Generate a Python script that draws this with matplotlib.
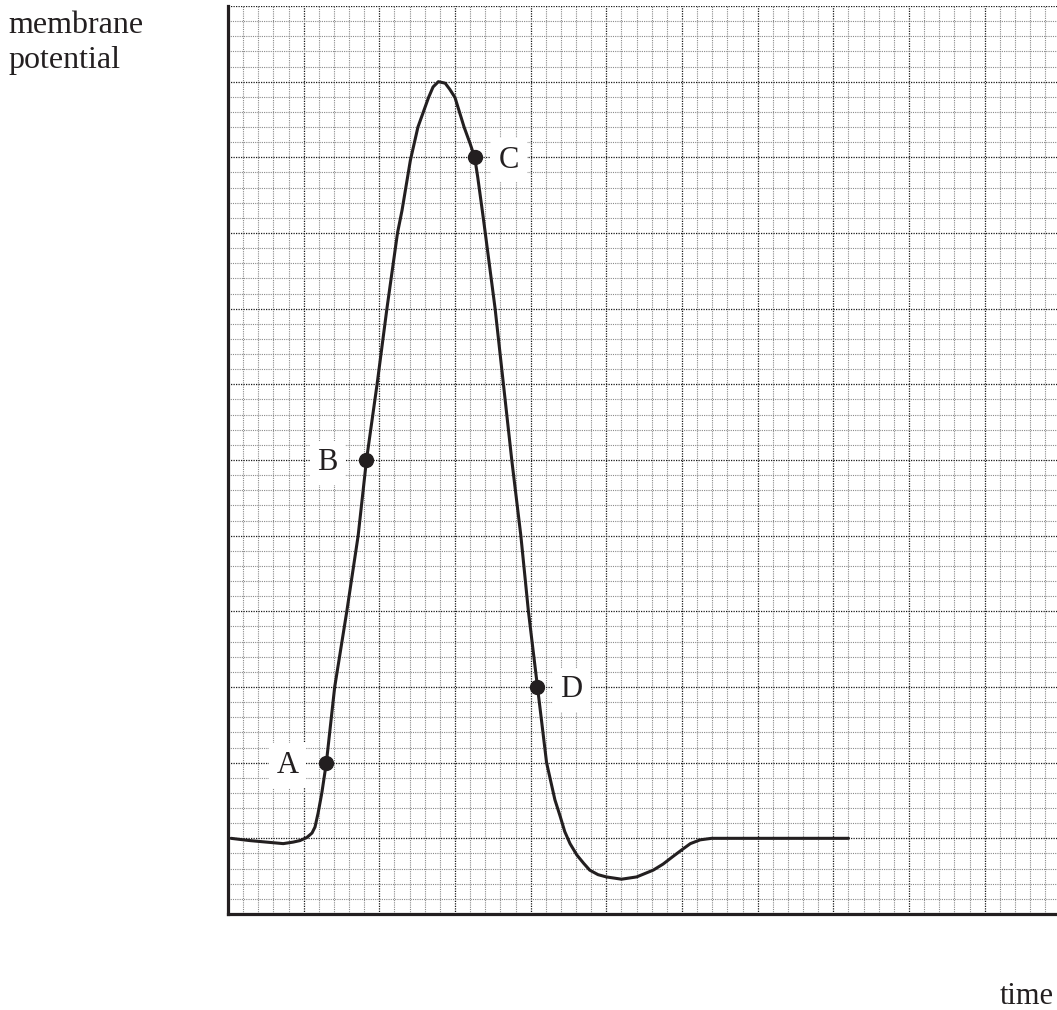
import matplotlib
matplotlib.use("Agg")
import matplotlib.pyplot as plt
from matplotlib.ticker import MultipleLocator

# curve (1 unit = 1 large square)
time = [0.04, 0.29, 0.73, 0.86, 0.95, 1.04, 1.11, 1.15, 1.19, 1.24, 1.30, 1.41,
        1.57, 1.72, 1.83, 1.97, 2.10, 2.24, 2.30, 2.41, 2.51, 2.65, 2.71, 2.78,
        2.87, 2.93, 3.00, 3.12, 3.20, 3.26, 3.30, 3.36, 3.40, 3.53, 3.64, 3.75,
        3.87, 3.97, 4.09, 4.21, 4.32, 4.39, 4.45, 4.52, 4.61, 4.70, 4.78, 4.89,
        5.00, 5.20, 5.40, 5.62, 5.75, 5.88, 6.00, 6.11, 6.24, 6.39, 8.20]
potential = [1.00, 0.97, 0.93, 0.95, 0.97, 1.01, 1.07, 1.15, 1.33, 1.60, 2.00, 3.00,
             4.00, 5.00, 6.00, 7.00, 8.00, 9.00, 9.30, 9.96, 10.40, 10.79, 10.93, 11.00,
             10.98, 10.90, 10.79, 10.40, 10.18, 10.00, 9.74, 9.30, 9.00, 8.00, 7.00, 6.00,
             5.00, 4.00, 3.00, 2.00, 1.51, 1.29, 1.09, 0.93, 0.78, 0.67, 0.58, 0.52,
             0.49, 0.46, 0.49, 0.58, 0.66, 0.76, 0.85, 0.93, 0.98, 1.00, 1.00]

point_names = ["A", "B", "C", "D"]
point_x = [1.30, 1.83, 3.26, 4.09]
point_y = [2.00, 6.00, 10.00, 3.00]
label_side = ["left", "left", "right", "right"]

fig = plt.figure(figsize=(10.57, 10.10), dpi=100)
ax = fig.add_axes([228 / 1057, 1 - 914 / 1010, 1 - 228 / 1057, 908 / 1010])

ax.set_xlim(0, 829 / 75.67)
ax.set_ylim(0, 12)

ax.xaxis.set_major_locator(MultipleLocator(1))
ax.xaxis.set_minor_locator(MultipleLocator(0.2))
ax.yaxis.set_major_locator(MultipleLocator(1))
ax.yaxis.set_minor_locator(MultipleLocator(0.2))
ax.grid(which="minor", color="#8a8a8a", linestyle=(0, (1, 1)), linewidth=0.8)
ax.grid(which="major", color="#1a1a1a", linestyle=(0, (1, 1)), linewidth=0.9)
ax.set_axisbelow(True)
ax.tick_params(which="both", length=0, labelbottom=False, labelleft=False)

for s in ["top", "right"]:
    ax.spines[s].set_visible(False)
for s in ["left", "bottom"]:
    ax.spines[s].set_linewidth(2.3)
    ax.spines[s].set_color("#231f20")

ax.plot(time, potential, color="#231f20", linewidth=2.2, solid_capstyle="round",
        solid_joinstyle="round", zorder=3)
ax.plot(point_x, point_y, "o", color="#231f20", markersize=10, zorder=4)

serif = ["Liberation Serif", "DejaVu Serif"]
for name, x, y, side in zip(point_names, point_x, point_y, label_side):
    dx = -39 if side == "left" else 34
    ax.annotate(name, (x, y), xytext=(dx * 0.72, -2), textcoords="offset points",
                ha="center", va="center", fontsize=22, family=serif, color="#231f20",
                bbox=dict(boxstyle="square,pad=0.25", fc="white", ec="none"), zorder=5)

fig.text(8 / 1057, 1 - 33 / 1010, "membrane", ha="left", va="baseline",
         fontsize=23, family=serif, color="#231f20")
fig.text(8 / 1057, 1 - 68 / 1010, "potential", ha="left", va="baseline",
         fontsize=23, family=serif, color="#231f20")
fig.text(1000 / 1057, 1 - 1004 / 1010, "time", ha="left", va="baseline",
         fontsize=22, family=serif, color="#231f20")

fig.savefig("out.png", dpi=100)
